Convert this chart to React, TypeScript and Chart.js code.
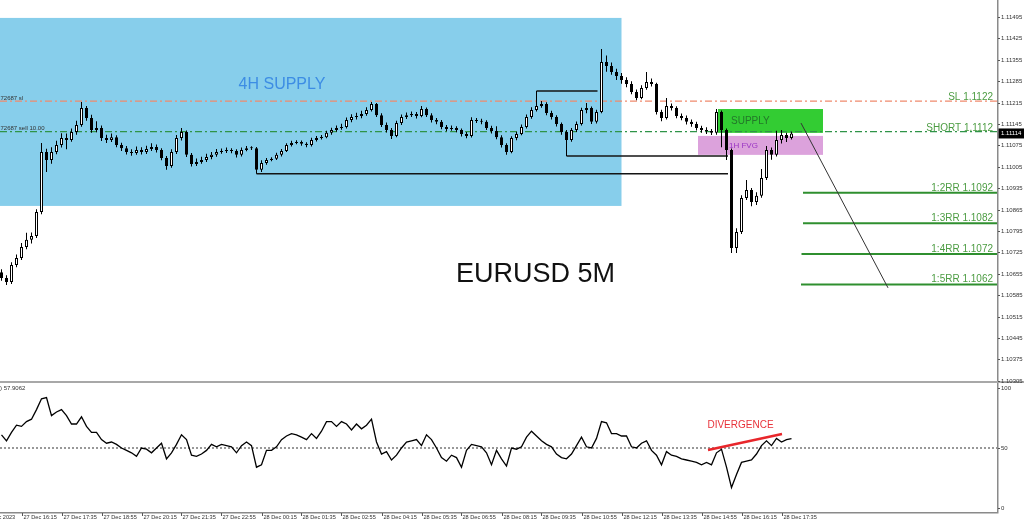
import { useEffect, useRef } from 'react';
import { Chart, registerables } from 'chart.js';

Chart.register(...registerables);

const BASE_PRICE = 1.1;
const PIP = 0.0001;
const SANS = '"Liberation Sans", Arial, sans-serif';

// EURUSD candles from 27 Dec 15:35, 10 minutes apart, in pips above 1.10000
const openPips = [
  66.0, 64.1, 62.8, 68.4, 70.7, 74.3, 76.6, 77.9, 85.7, 105.3,
  102.7, 105.3, 107.6, 109.9, 109.3, 111.9, 114.2, 119.7, 116.5, 112.5,
  113.2, 109.9, 109.3, 110.2, 107.6, 106.6, 105.3, 105.0, 106.0, 105.3,
  106.3, 107.0, 106.0, 103.4, 100.8, 105.3, 109.9, 111.9, 104.4, 101.4,
  102.1, 102.7, 103.7, 104.4, 105.3, 105.7, 106.0, 105.7, 104.4, 106.0,
  106.6, 106.6, 99.5, 101.7, 102.7, 103.1, 104.4, 105.7, 107.6, 108.3,
  108.6, 108.0, 107.6, 109.3, 109.9, 110.2, 111.6, 112.5, 113.2, 113.5,
  115.8, 116.8, 117.1, 117.8, 119.1, 121.0, 117.4, 114.2, 112.5, 110.6,
  114.8, 116.8, 117.4, 117.8, 117.1, 119.4, 117.4, 115.8, 115.2, 113.5,
  112.9, 113.2, 112.5, 111.2, 110.6, 115.8, 115.5, 115.2, 113.2, 112.2,
  110.2, 107.6, 105.3, 109.9, 111.2, 113.5, 116.8, 119.1, 120.4, 121.0,
  118.1, 116.8, 114.5, 111.9, 109.3, 112.5, 114.5, 119.1, 119.7, 115.2,
  118.4, 134.8, 133.5, 131.5, 130.2, 128.9, 127.6, 125.0, 123.0, 126.3,
  128.2, 127.6, 118.4, 116.5, 120.4, 119.7, 117.1, 116.5, 115.2, 114.5,
  113.2, 112.5, 112.2, 111.6, 118.4, 112.5, 106.0, 73.9, 79.2, 90.3,
  92.9, 89.0, 91.0, 96.8, 106.0, 104.4, 109.3, 110.9, 109.9,
];
const highPips = [
  67.0, 65.0, 69.3, 71.8, 75.6, 78.9, 79.0, 86.6, 108.3, 106.4,
  106.9, 109.0, 111.5, 111.4, 113.0, 115.6, 121.7, 120.4, 117.5, 115.4,
  114.0, 111.0, 111.4, 110.8, 108.4, 107.3, 106.2, 107.1, 106.9, 107.4,
  108.2, 107.8, 106.6, 104.0, 106.2, 110.9, 113.2, 112.4, 105.0, 103.2,
  103.8, 104.8, 105.3, 106.3, 106.5, 106.8, 106.6, 106.2, 106.8, 107.3,
  107.2, 107.0, 102.6, 103.4, 103.6, 105.1, 106.3, 108.2, 109.0, 109.2,
  109.1, 108.5, 110.0, 110.6, 110.9, 112.3, 113.3, 114.0, 114.6, 116.6,
  117.7, 118.2, 118.8, 120.0, 121.7, 121.4, 118.0, 115.0, 113.2, 115.6,
  117.6, 118.3, 118.6, 118.4, 120.4, 119.9, 118.0, 116.5, 115.8, 114.2,
  114.0, 113.8, 113.0, 111.9, 116.7, 116.5, 116.2, 115.7, 113.9, 113.8,
  110.8, 108.2, 110.5, 112.0, 114.3, 117.6, 120.0, 125.3, 122.0, 121.6,
  118.8, 117.4, 115.0, 112.5, 113.2, 115.3, 119.8, 121.4, 120.2, 119.2,
  139.0, 136.9, 134.6, 132.6, 131.2, 129.8, 128.5, 125.8, 127.2, 131.5,
  129.4, 128.0, 119.2, 123.0, 121.2, 120.3, 117.9, 117.3, 116.0, 115.2,
  113.9, 113.4, 112.9, 119.4, 118.9, 113.0, 106.5, 80.4, 91.2, 96.2,
  93.6, 92.2, 99.8, 107.3, 106.8, 112.3, 112.5, 111.6, 112.0,
];
const lowPips = [
  63.2, 61.8, 62.2, 67.6, 70.0, 73.5, 75.4, 77.2, 85.0, 98.8,
  101.5, 104.6, 106.8, 106.2, 108.7, 111.0, 113.6, 115.6, 111.6, 111.8,
  108.9, 108.3, 108.6, 106.9, 105.7, 104.5, 104.1, 104.4, 104.5, 104.7,
  105.7, 105.2, 102.6, 99.5, 100.2, 104.7, 109.1, 103.7, 100.6, 100.8,
  101.5, 102.1, 103.0, 103.8, 104.8, 105.0, 104.9, 103.5, 103.9, 105.6,
  106.0, 98.2, 98.8, 101.2, 102.3, 102.7, 103.9, 105.3, 107.1, 107.9,
  107.4, 106.9, 107.1, 108.8, 109.4, 109.8, 111.0, 112.0, 112.6, 113.0,
  115.1, 116.0, 116.4, 117.2, 118.6, 116.8, 113.5, 111.7, 109.6, 110.2,
  114.2, 116.1, 116.8, 116.3, 116.7, 116.8, 115.0, 114.4, 112.8, 112.1,
  112.3, 111.8, 110.4, 109.8, 110.1, 114.8, 114.4, 112.5, 111.4, 109.5,
  106.8, 104.4, 104.9, 109.2, 110.8, 113.0, 116.2, 118.6, 119.8, 117.4,
  116.0, 113.7, 111.0, 104.0, 108.7, 111.9, 114.0, 118.0, 114.5, 114.7,
  118.0, 131.6, 130.6, 128.9, 127.7, 126.5, 124.2, 122.3, 122.6, 125.7,
  126.8, 117.6, 115.4, 116.0, 118.9, 116.4, 115.7, 114.3, 113.6, 112.4,
  111.6, 111.2, 110.9, 111.0, 106.9, 102.7, 72.3, 72.3, 78.5, 89.6,
  87.6, 88.0, 90.4, 96.2, 102.8, 103.9, 108.1, 108.6, 109.4,
];
const closePips = [
  64.1, 62.8, 68.4, 70.7, 74.3, 76.6, 77.9, 85.7, 105.3, 102.7,
  105.3, 107.6, 109.9, 109.3, 111.9, 114.2, 119.7, 116.5, 112.5, 113.2,
  109.9, 109.3, 110.2, 107.6, 106.6, 105.3, 105.0, 106.0, 105.3, 106.3,
  107.0, 106.0, 103.4, 100.8, 105.3, 109.9, 111.9, 104.4, 101.4, 102.1,
  102.7, 103.7, 104.4, 105.3, 105.7, 106.0, 105.7, 104.4, 106.0, 106.6,
  106.6, 99.5, 101.7, 102.7, 103.1, 104.4, 105.7, 107.6, 108.3, 108.6,
  108.0, 107.6, 109.3, 109.9, 110.2, 111.6, 112.5, 113.2, 113.5, 115.8,
  116.8, 117.1, 117.8, 119.1, 121.0, 117.4, 114.2, 112.5, 110.6, 114.8,
  116.8, 117.4, 117.8, 117.1, 119.4, 117.4, 115.8, 115.2, 113.5, 112.9,
  113.2, 112.5, 111.2, 110.6, 115.8, 115.5, 115.2, 113.2, 112.2, 110.2,
  107.6, 105.3, 109.9, 111.2, 113.5, 116.8, 119.1, 120.4, 121.0, 118.1,
  116.8, 114.5, 111.9, 109.3, 112.5, 114.5, 119.1, 119.7, 115.2, 118.4,
  134.8, 133.5, 131.5, 130.2, 128.9, 127.6, 125.0, 123.0, 126.3, 128.2,
  127.6, 118.4, 116.5, 120.4, 119.7, 117.1, 116.5, 115.2, 114.5, 113.2,
  112.5, 112.2, 111.6, 118.4, 112.5, 106.0, 73.9, 79.2, 90.3, 92.9,
  89.0, 91.0, 96.8, 106.0, 104.4, 109.3, 110.9, 109.9, 111.4,
];

// RSI(14) for the same candles
const rsiValues = [
  61, 56, 63, 69, 68, 72, 74, 82, 91, 92,
  77, 80, 82, 77, 70, 70, 76, 68, 63, 63,
  57, 54, 55, 53, 50, 48, 46, 43, 50, 49,
  46, 50, 54, 41, 46, 53, 61, 57, 44, 43,
  45, 48, 53, 51, 53, 52, 51, 46, 52, 55,
  52, 34, 36, 48, 48, 51, 57, 60, 62, 61,
  59, 57, 62, 58, 64, 72, 72, 68, 72, 70,
  65, 70, 66, 69, 74, 55, 45, 47, 40, 44,
  50, 55, 56, 57, 52, 61, 57, 50, 42, 39,
  44, 42, 34, 48, 53, 52, 51, 46, 36, 48,
  41, 35, 50, 49, 51, 59, 64, 60, 56, 53,
  51, 45, 42, 41, 45, 52, 59, 51, 50, 58,
  72, 71, 62, 62, 60, 60, 51, 50, 54, 56,
  48, 44, 36, 47, 44, 43, 41, 40, 39, 38,
  36, 38, 36, 46, 49, 34, 17, 28, 38, 39,
  40, 45, 52, 56, 52, 58, 55, 57, 57.9062,
];

// time axis: candle index of each label
const timeTickBars = [-4, 4, 12, 20, 28, 36, 44, 52, 60, 68, 76, 84, 92, 100, 108, 116, 124, 132, 140, 148, 156];
const timeTickLabels = [
  '27 Dec 2023', '27 Dec 16:15', '27 Dec 17:35', '27 Dec 18:55', '27 Dec 20:15', '27 Dec 21:35',
  '27 Dec 22:55', '28 Dec 00:15', '28 Dec 01:35', '28 Dec 02:55', '28 Dec 04:15', '28 Dec 05:35',
  '28 Dec 06:55', '28 Dec 08:15', '28 Dec 09:35', '28 Dec 10:55', '28 Dec 12:15', '28 Dec 13:35',
  '28 Dec 14:55', '28 Dec 16:15', '28 Dec 17:35',
];
const priceTicks = [
  1.10305, 1.10375, 1.10445, 1.10515, 1.10585, 1.10655, 1.10725, 1.10795, 1.10865,
  1.10935, 1.11005, 1.11075, 1.11145, 1.11215, 1.11285, 1.11355, 1.11425, 1.11495,
];
const rsiTicks = [100, 50, 0];

// trade levels
const SL_LEVEL = 1.1122;
const SHORT_LEVEL = 1.1112;
const rrLevels = [1.1092, 1.1082, 1.1072, 1.1062];
const rrStartBars = [160.3, 160.3, 160.0, 159.9];
const rrLabels = ['1:2RR 1.1092', '1:3RR 1.1082', '1:4RR 1.1072', '1:5RR 1.1062'];

// zones: [from candle, to candle, low price, high price]
const zone4h = [-5, 124.0, 1.10877, 1.11492];
const supplyZone = [143.3, 164.3, 1.11116, 1.11194];
const fvgZone = [139.3, 164.3, 1.11044, 1.11106];

// structure lines from swing points
const structureLevels = [1.10982, 1.1104, 1.11253];
const structureFrom = [51, 113, 107];
const structureTo = [145.3, 145.3, 119.2];

// projected path after the short entry
const projectionBars = [159.9, 177.3];
const projectionPrices = [1.11148, 1.10609];

// RSI divergence trend line
const divergenceBars = [141.3, 156.1];
const divergenceRsi = [48.3, 61.7];

const X_MIN = -0.3;
const X_MAX = 199.1;
const PRICE_MIN = 1.103043;
const PRICE_MAX = 1.115506;
const RSI_MIN = -3.333;
const RSI_MAX = 102.5;

const toPrice = (p: number) => BASE_PRICE + p * PIP;
const candleIdx = closePips.map((_, i) => i);

function segment(x0: number, y0: number, x1: number, y1: number, color: string, width: number, dash: number[] = [], order = 5) {
  return {
    type: 'line' as const,
    data: [{ x: x0, y: y0 }, { x: x1, y: y1 }],
    borderColor: color,
    borderWidth: width,
    borderDash: dash,
    pointRadius: 0,
    fill: false,
    tension: 0,
    order,
  };
}

function fillZone(chart: any, z: number[], color: string) {
  const { ctx, scales: { x, y } } = chart;
  const x0 = x.getPixelForValue(z[0]);
  const x1 = x.getPixelForValue(z[1]);
  const y0 = y.getPixelForValue(z[3]);
  const y1 = y.getPixelForValue(z[2]);
  ctx.fillStyle = color;
  ctx.fillRect(x0, y0, x1 - x0, y1 - y0);
}

function text(ctx: CanvasRenderingContext2D, s: string, px: number, py: number, font: string, color: string, align: CanvasTextAlign, base: CanvasTextBaseline) {
  ctx.font = font;
  ctx.fillStyle = color;
  ctx.textAlign = align;
  ctx.textBaseline = base;
  ctx.fillText(s, px, py);
}

const priceDecor = {
  id: 'priceDecor',
  beforeDatasetsDraw(chart: any) {
    const { ctx, chartArea: a } = chart;
    ctx.save();
    ctx.beginPath();
    ctx.rect(a.left, a.top, a.right - a.left, a.bottom - a.top);
    ctx.clip();
    fillZone(chart, zone4h, '#87ceeb');
    fillZone(chart, fvgZone, '#dca2dc');
    fillZone(chart, supplyZone, '#33cc33');
    ctx.restore();
  },
  afterDatasetsDraw(chart: any) {
    const { ctx, chartArea: a, scales: { x, y } } = chart;
    ctx.save();
    text(ctx, '4H SUPPLY', x.getPixelForValue(56.1), y.getPixelForValue(1.11273), `16px ${SANS}`, '#3d8de4', 'center', 'middle');
    text(ctx, 'EURUSD 5M', x.getPixelForValue(106.8), y.getPixelForValue(1.10654), `27px ${SANS}`, '#111', 'center', 'middle');
    text(ctx, 'SUPPLY', x.getPixelForValue(145.9), y.getPixelForValue((supplyZone[2] + supplyZone[3]) / 2), `10px ${SANS}`, '#23772a', 'left', 'middle');
    text(ctx, '1H FVG', x.getPixelForValue(145.5), y.getPixelForValue((fvgZone[2] + fvgZone[3]) / 2), `8px ${SANS}`, '#9a34c4', 'left', 'middle');
    const rx = a.right - 4;
    text(ctx, 'SL 1.1122', rx, y.getPixelForValue(SL_LEVEL) - 1, `10px ${SANS}`, '#4c9c42', 'right', 'alphabetic');
    text(ctx, 'SHORT 1.1112', rx, y.getPixelForValue(SHORT_LEVEL) - 1, `10px ${SANS}`, '#4c9c42', 'right', 'alphabetic');
    rrLevels.forEach((lv, k) => {
      text(ctx, rrLabels[k], rx, y.getPixelForValue(lv) - 2, `10px ${SANS}`, '#4c9c42', 'right', 'alphabetic');
    });
    text(ctx, '72687 sl', 0.5, y.getPixelForValue(SL_LEVEL) - 1.5, `6px ${SANS}`, '#333', 'left', 'alphabetic');
    text(ctx, '72687 sell 10.00', 0.5, y.getPixelForValue(SHORT_LEVEL) - 1.5, `6px ${SANS}`, '#333', 'left', 'alphabetic');
    ctx.restore();
  },
  afterDraw(chart: any) {
    const { ctx, chartArea: a, scales: { y }, width, height } = chart;
    ctx.save();
    ctx.fillStyle = '#a8a8a8';
    ctx.fillRect(0, a.bottom, width, height - a.bottom);
    ctx.strokeStyle = '#8a8a8a';
    ctx.lineWidth = 1.5;
    ctx.beginPath();
    ctx.moveTo(a.right + 0.75, 0);
    ctx.lineTo(a.right + 0.75, a.bottom);
    ctx.stroke();
    ctx.lineWidth = 1;
    ctx.strokeStyle = '#555';
    priceTicks.forEach((v) => {
      const py = Math.round(y.getPixelForValue(v)) + 0.5;
      ctx.beginPath();
      ctx.moveTo(a.right + 1, py);
      ctx.lineTo(a.right + 3, py);
      ctx.stroke();
      text(ctx, v.toFixed(5), a.right + 4, py, `6px ${SANS}`, '#333', 'left', 'middle');
    });
    const last = toPrice(closePips[closePips.length - 1]);
    const ly = y.getPixelForValue(last);
    ctx.fillStyle = '#000';
    ctx.fillRect(a.right + 1.5, ly - 5, width - a.right - 1.5, 10);
    text(ctx, last.toFixed(5), a.right + 4, ly, `6px ${SANS}`, '#fff', 'left', 'middle');
    ctx.restore();
  },
};

const rsiDecor = {
  id: 'rsiDecor',
  afterDatasetsDraw(chart: any) {
    const { ctx, scales: { x, y } } = chart;
    ctx.save();
    text(ctx, 'DIVERGENCE', x.getPixelForValue(147.8), y.getPixelForValue(69.2), `10px ${SANS}`, '#e8323a', 'center', 'middle');
    ctx.font = `6px ${SANS}`;
    const lead = ctx.measureText('RSI(14').width;
    text(ctx, `RSI(14) ${rsiValues[rsiValues.length - 1].toFixed(4)}`, -lead, 5.5, `6px ${SANS}`, '#333', 'left', 'middle');
    ctx.restore();
  },
  afterDraw(chart: any) {
    const { ctx, chartArea: a, scales: { x, y } } = chart;
    ctx.save();
    ctx.strokeStyle = '#8a8a8a';
    ctx.lineWidth = 1.5;
    ctx.beginPath();
    ctx.moveTo(a.right + 0.75, 0);
    ctx.lineTo(a.right + 0.75, a.bottom + 0.75);
    ctx.lineTo(0, a.bottom + 0.75);
    ctx.stroke();
    ctx.lineWidth = 1;
    ctx.strokeStyle = '#555';
    rsiTicks.forEach((v) => {
      const py = Math.round(y.getPixelForValue(v)) + 0.5;
      ctx.beginPath();
      ctx.moveTo(a.right + 1, py);
      ctx.lineTo(a.right + 3, py);
      ctx.stroke();
      text(ctx, String(v), a.right + 4, py, `6px ${SANS}`, '#333', 'left', 'middle');
    });
    timeTickBars.forEach((b, k) => {
      const px = Math.round(x.getPixelForValue(b)) + 0.5;
      ctx.beginPath();
      ctx.moveTo(px, a.bottom + 1);
      ctx.lineTo(px, a.bottom + 4);
      ctx.stroke();
      text(ctx, timeTickLabels[k], px + 1, a.bottom + 5.5, `5.6px ${SANS}`, '#333', 'left', 'middle');
    });
    ctx.restore();
  },
};

function priceConfig(): any {
  const bull = (i: number) => closePips[i] >= openPips[i];
  return {
    type: 'bar',
    data: {
      datasets: [
        {
          type: 'bar',
          label: 'wick',
          data: candleIdx.map((i) => ({ x: i, y: [toPrice(lowPips[i]), toPrice(highPips[i])] })),
          backgroundColor: '#000',
          borderWidth: 0,
          barThickness: 1,
          grouped: false,
          inflateAmount: 0,
          order: 2,
        },
        {
          type: 'bar',
          label: 'body',
          data: candleIdx.map((i) => ({
            x: i,
            y: [toPrice(Math.min(openPips[i], closePips[i])), toPrice(Math.max(openPips[i], closePips[i]))],
          })),
          backgroundColor: candleIdx.map((i) => (bull(i) ? '#ffffff' : '#000000')),
          borderColor: '#000',
          borderWidth: 1,
          borderSkipped: false,
          barThickness: 3,
          minBarLength: 1,
          grouped: false,
          inflateAmount: 0,
          order: 1,
        },
        segment(X_MIN, SL_LEVEL, X_MAX, SL_LEVEL, '#f08a6e', 1.2, [7, 3, 2, 3], 6),
        segment(X_MIN, SHORT_LEVEL, X_MAX, SHORT_LEVEL, '#2f9448', 1.2, [7, 3, 2, 3], 6),
        ...rrLevels.map((lv, k) => segment(rrStartBars[k], lv, X_MAX, lv, '#2f8f2f', 2, [], 5)),
        ...structureLevels.map((lv, k) => segment(structureFrom[k], lv, structureTo[k], lv, '#141414', 1.5, [], 4)),
        segment(projectionBars[0], projectionPrices[0], projectionBars[1], projectionPrices[1], '#333', 1, [], 3),
      ],
    },
    options: {
      responsive: false,
      animation: false,
      devicePixelRatio: 1,
      events: [],
      layout: { padding: { left: 0, top: 0, right: 27, bottom: 2 } },
      plugins: { legend: { display: false }, tooltip: { enabled: false } },
      scales: {
        x: { type: 'linear', min: X_MIN, max: X_MAX, offset: false, display: false },
        y: { type: 'linear', min: PRICE_MIN, max: PRICE_MAX, beginAtZero: false, display: false },
      },
    },
    plugins: [priceDecor],
  };
}

function rsiConfig(): any {
  return {
    type: 'line',
    data: {
      datasets: [
        {
          data: rsiValues.map((v, i) => ({ x: i, y: v })),
          borderColor: '#000',
          borderWidth: 1.3,
          pointRadius: 0,
          tension: 0,
          fill: false,
          order: 1,
        },
        segment(X_MIN, 50, X_MAX, 50, '#333', 1, [2, 2], 2),
        segment(divergenceBars[0], divergenceRsi[0], divergenceBars[1], divergenceRsi[1], '#e8262b', 2.5, [], 0),
      ],
    },
    options: {
      responsive: false,
      animation: false,
      devicePixelRatio: 1,
      events: [],
      layout: { padding: { left: 0, top: 2, right: 27, bottom: 13 } },
      plugins: { legend: { display: false }, tooltip: { enabled: false } },
      scales: {
        x: { type: 'linear', min: X_MIN, max: X_MAX, offset: false, display: false },
        y: { type: 'linear', min: RSI_MIN, max: RSI_MAX, display: false },
      },
    },
    plugins: [rsiDecor],
  };
}

export default function App() {
  const priceRef = useRef<HTMLCanvasElement>(null);
  const rsiRef = useRef<HTMLCanvasElement>(null);

  useEffect(() => {
    const price = new Chart(priceRef.current as HTMLCanvasElement, priceConfig());
    const rsi = new Chart(rsiRef.current as HTMLCanvasElement, rsiConfig());
    return () => {
      price.destroy();
      rsi.destroy();
    };
  }, []);

  return (
    <div style={{ position: 'fixed', left: 0, top: 0, width: 1024, height: 525, background: '#fff', overflow: 'hidden' }}>
      <canvas
        ref={priceRef}
        width={1024}
        height={383}
        style={{ position: 'absolute', left: 0, top: 0, width: 1024, height: 383 }}
      />
      <canvas
        ref={rsiRef}
        width={1024}
        height={142}
        style={{ position: 'absolute', left: 0, top: 383, width: 1024, height: 142 }}
      />
    </div>
  );
}
